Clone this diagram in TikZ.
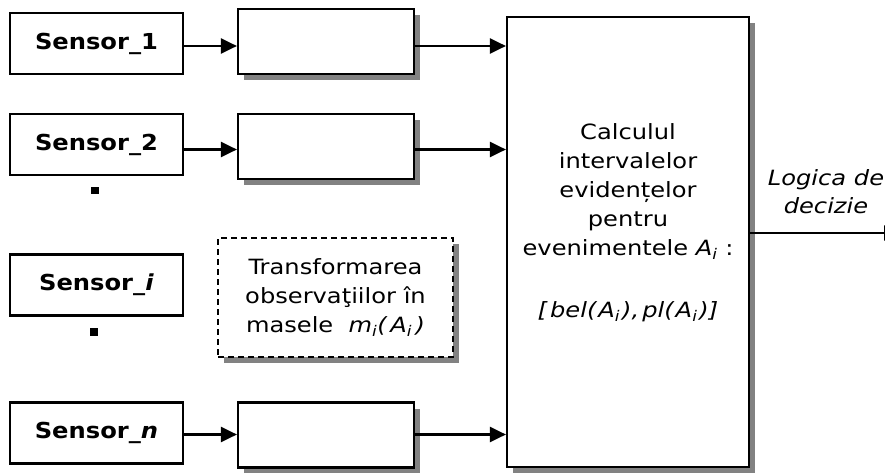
\documentclass[tikz,border=0pt]{standalone}
\usepackage{fontspec}
\setmainfont{DejaVu Sans}[FakeStretch=1.15]
\newfontfamily\boldsans{DejaVu Sans}[FakeStretch=1.1]
\usetikzlibrary{arrows.meta,shadows}
\definecolor{shadowgray}{RGB}{130,130,130}
\begin{document}
\begin{tikzpicture}[x=1pt,y=-1pt,
  every node/.style={font=\fontsize{21}{29}\selectfont},
  box/.style={draw, rectangle, line width=2.2pt, inner sep=0pt, fill=white},
  shadowed/.style={drop shadow={shadow xshift=6pt, shadow yshift=-6pt, fill=shadowgray, opacity=1}},
  sensor/.style={box, minimum width=173pt, minimum height=61pt, font=\boldsans\fontsize{22}{29}\selectfont\bfseries},
  proc/.style={box, shadowed, minimum width=176pt, minimum height=65pt},
  arr/.style={line width=2.2pt, -{Triangle[length=16pt,width=15pt]}},
  dot/.style={fill=black, inner sep=0pt, minimum width=8pt, minimum height=7.5pt},
  plain/.style={align=center, inner sep=0pt}]
\useasboundingbox (0,0) rectangle (885,473);

% sensors
\node[sensor] (s1) at (96.5,43.5) {Sensor\_1};
\node[sensor] (s2) at (96.5,144.5) {Sensor\_2};
\node[sensor] (si) at (96.5,285) {Sensor\_\textit{i}};
\node[sensor] (sn) at (96.5,433) {Sensor\_\textit{n}};

% dots
\node[dot] (d1) at (94.5,190.5) {};
\node[dot] (d2) at (94,332) {};

% processing boxes
\node[proc] (m1) at (326,41.5) {};
\node[proc] (m2) at (326,146.5) {};
\node[proc] (mn) at (326,435) {};

% dashed box
\node[box, shadowed, dash pattern=on 6pt off 4pt, minimum width=235pt, minimum height=119pt, align=center]
  (tr) at (335.5,297.5) {Transformarea\\observaţiilor în\\masele~ \textit{m\textsubscript{i}(\,A\textsubscript{i}\,)}};

% big box
\node[box, shadowed, minimum width=242pt, minimum height=450pt] (big) at (628,242) {};
\node[plain, anchor=north] (calc) at (628,123) {Calculul\\intervalelor\\evidențelor\\pentru\\evenimentele \textit{A\textsubscript{i}} :\\[33pt]\textit{[\hspace{3pt}bel(\hspace{2pt}A\textsubscript{i}\hspace{2pt}),\hspace{3pt}pl(\hspace{2pt}A\textsubscript{i}\hspace{2pt})]}};

% output
\node[plain, font=\fontsize{21}{28}\selectfont\itshape] (logic) at (826,192) {Logica de\\decizie};
\coordinate (out) at (900,233);

% arrows
\draw[arr] ([yshift=-2.5pt]s1.east) -- ([yshift=-2.5pt]s1.east -| m1.west);
\draw[arr] ([yshift=-5pt]s2.east) -- ([yshift=-5pt]s2.east -| m2.west);
\draw[arr] ([yshift=-1.5pt]sn.east) -- ([yshift=-1.5pt]sn.east -| mn.west);
\draw[arr] ([yshift=-4.5pt]m1.east) -- ([yshift=-4.5pt]m1.east -| big.west);
\draw[arr] ([yshift=-3pt]m2.east) -- ([yshift=-3pt]m2.east -| big.west);
\draw[arr] ([yshift=0.5pt]mn.east) -- ([yshift=0.5pt]mn.east -| big.west);
\draw[arr] (big.east |- out) -- (out);
\end{tikzpicture}
\end{document}
